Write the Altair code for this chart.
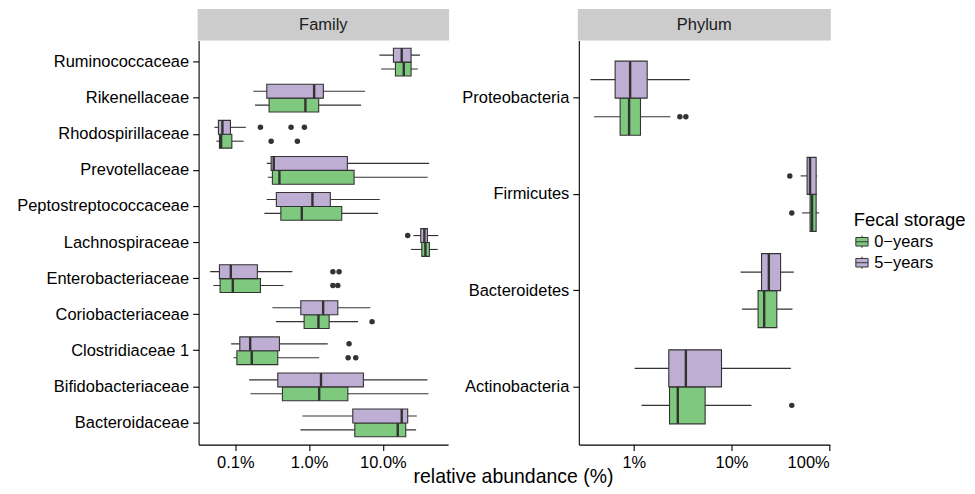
import altair as alt
import pandas as pd

FONT = "Liberation Sans"
GROUPS = ["0−years", "5−years"]
GROUP_COLORS = ["#7FC97F", "#BEAED4"]
STACK_ORDER = ["5−years", "0−years"]

# ---------------- Family panel ----------------
family_cats = ["Ruminococcaceae", "Rikenellaceae", "Rhodospirillaceae", "Prevotellaceae",
               "Peptostreptococcaceae", "Lachnospiraceae", "Enterobacteriaceae",
               "Coriobacteriaceae", "Clostridiaceae 1", "Bifidobacteriaceae", "Bacteroidaceae"]
# 0-years
fam0_lo  = [9.45, 0.185, 0.0555, 0.276, 0.248, 24.1, 0.0505, 0.357, 0.0942, 0.160, 0.762]
fam0_q1  = [14.8, 0.287, 0.0610, 0.318, 0.414, 33.7, 0.0622, 0.856, 0.105, 0.435, 4.16]
fam0_med = [19.2, 0.891, 0.0642, 0.396, 0.796, 37.7, 0.0925, 1.34, 0.167, 1.37, 15.9]
fam0_q3  = [24.1, 1.35, 0.0897, 4.07, 2.77, 42.7, 0.219, 1.87, 0.376, 3.35, 20.4]
fam0_hi  = [29.7, 5.07, 0.130, 40.6, 8.61, 55.4, 0.449, 4.61, 1.37, 41.4, 28.2]
# 5-years
fam5_lo  = [8.97, 0.176, 0.0521, 0.267, 0.267, 25.9, 0.0456, 0.318, 0.0877, 0.154, 0.811]
fam5_q1  = [13.9, 0.267, 0.0590, 0.306, 0.360, 32.6, 0.0609, 0.772, 0.115, 0.376, 3.91]
fam5_med = [18.0, 1.17, 0.0669, 0.332, 1.11, 36.5, 0.0869, 1.55, 0.159, 1.45, 18.0]
fam5_q3  = [24.1, 1.56, 0.0859, 3.30, 1.94, 40.1, 0.199, 2.45, 0.396, 5.44, 21.7]
fam5_hi  = [31.9, 5.74, 0.139, 42.3, 9.08, 56.5, 0.594, 6.77, 1.79, 40.1, 28.8]
# outliers
fam_out_cat = ["Rhodospirillaceae", "Rhodospirillaceae", "Enterobacteriaceae", "Enterobacteriaceae",
               "Coriobacteriaceae", "Clostridiaceae 1", "Clostridiaceae 1",
               "Rhodospirillaceae", "Rhodospirillaceae", "Rhodospirillaceae", "Lachnospiraceae",
               "Enterobacteriaceae", "Enterobacteriaceae", "Clostridiaceae 1"]
fam_out_grp = ["0−years"] * 7 + ["5−years"] * 7
fam_out_val = [0.306, 0.694, 2.10, 2.45, 7.14, 3.38, 4.29,
               0.219, 0.570, 0.864, 21.7, 2.10, 2.55, 3.48]
family_ticks = [0.1, 1, 10]
family_tick_labels = ["0.1%", "1.0%", "10.0%"]
family_domain = [0.0318, 76.5]

# ---------------- Phylum panel ----------------
phylum_cats = ["Proteobacteria", "Firmicutes", "Bacteroidetes", "Actinobacteria"]
phy0_lo  = [0.392, 52.8, 12.8, 1.20]
phy0_q1  = [0.724, 63.7, 18.7, 2.32]
phy0_med = [0.895, 66.8, 21.6, 2.82]
phy0_q3  = [1.17, 73.5, 29.1, 5.37]
phy0_hi  = [2.37, 78.8, 42.1, 16.0]
phy5_lo  = [0.360, 50.9, 12.4, 1.02]
phy5_q1  = [0.644, 59.4, 20.3, 2.28]
phy5_med = [0.917, 63.7, 24.1, 3.41]
phy5_q3  = [1.37, 73.5, 31.8, 7.90]
phy5_hi  = [3.74, 75.2, 43.4, 40.5]
phy_out_cat = ["Proteobacteria", "Proteobacteria", "Firmicutes", "Actinobacteria", "Firmicutes"]
phy_out_grp = ["0−years", "0−years", "0−years", "0−years", "5−years"]
phy_out_val = [2.96, 3.41, 41.4, 41.4, 39.5]
phylum_ticks = [1, 10, 100]
phylum_tick_labels = ["1%", "10%", "100%"]
phylum_domain = [0.2735, 101.4]

PLOT_H = 405
STRIP_H = 31.5


def box_table(cats, g0, g5):
    rows = []
    for grp, stats in ((GROUPS[0], g0), (GROUPS[1], g5)):
        lo, q1, med, q3, hi = stats
        for i, c in enumerate(cats):
            rows.append({"cat": c, "grp": grp, "lo": lo[i], "q1": q1[i],
                         "med": med[i], "q3": q3[i], "hi": hi[i]})
    return pd.DataFrame(rows)


def label_expr(ticks, labels):
    expr = "''"
    for t, l in zip(reversed(ticks), reversed(labels)):
        expr = f"abs(datum.value - {t}) < {t}*1e-6 ? '{l}' : ({expr})"
    return expr


def panel(df, out_df, cats, domain, ticks, tick_labels, width, strip_text):
    xscale = alt.Scale(type="log", domain=domain, nice=False, zero=False)
    xaxis = alt.Axis(title=None, values=ticks, labelExpr=label_expr(ticks, tick_labels),
                     grid=False)
    y = alt.Y("cat:N", sort=cats,
              scale=alt.Scale(domain=cats, paddingInner=0, paddingOuter=0.1),
              axis=alt.Axis(title=None, grid=False))
    yoff = alt.YOffset("grp:N", sort=STACK_ORDER,
                       scale=alt.Scale(domain=STACK_ORDER, paddingInner=0, paddingOuter=0.3))
    base = alt.Chart(df)
    whisk = base.mark_rule(color="#333333", strokeWidth=1.1).encode(
        x=alt.X("lo:Q", scale=xscale, axis=xaxis), x2="hi:Q", y=y, yOffset=yoff)
    box = base.mark_bar(stroke="#333333", strokeWidth=1.1, opacity=1).encode(
        x=alt.X("q1:Q", scale=xscale, axis=xaxis), x2="q3:Q", y=y, yOffset=yoff,
        color=alt.Color("grp:N", scale=alt.Scale(domain=GROUPS, range=GROUP_COLORS),
                        legend=alt.Legend(
                            title="Fecal storage", orient="none", legendX=656.5,
                            legendY=171,
                            titleFontSize=18.5, titleFont=FONT, titleFontWeight="normal",
                            titleColor="#000000", labelFontSize=16.5, labelFont=FONT,
                            labelColor="#000000", padding=0, rowPadding=4, titlePadding=4,
                            symbolType="M-1,-0.7H1V0.7H-1Z M-1,0H1 M0,-0.7V-1 M0,0.7V1",
                            symbolSize=150, symbolStrokeColor="#333333",
                            symbolStrokeWidth=1, labelOffset=4)))
    med = base.mark_bar(stroke="#333333", strokeWidth=2.4, fillOpacity=0).encode(
        x=alt.X("med:Q", scale=xscale, axis=xaxis), x2="med:Q", y=y, yOffset=yoff)
    pts = alt.Chart(out_df).mark_circle(color="#333333", opacity=1, size=30).encode(
        x=alt.X("val:Q", scale=xscale, axis=xaxis), y=y, yOffset=yoff)
    strip_data = alt.Data(values=[{"s": strip_text}])
    strip = alt.Chart(strip_data).mark_rect(color="#CCCCCC").encode(
        x=alt.value(-1), x2=alt.value(width + 1), y=alt.value(-STRIP_H), y2=alt.value(0))
    strip_lbl = alt.Chart(strip_data).mark_text(
        font=FONT, fontSize=16.5, color="#1A1A1A", baseline="middle", align="center").encode(
        x=alt.value(width / 2), y=alt.value(-STRIP_H / 2), text="s:N")
    return alt.layer(strip, strip_lbl, whisk, box, med, pts).properties(
        width=width, height=PLOT_H)


fam_df = box_table(family_cats, (fam0_lo, fam0_q1, fam0_med, fam0_q3, fam0_hi),
                   (fam5_lo, fam5_q1, fam5_med, fam5_q3, fam5_hi))
fam_out = pd.DataFrame({"cat": fam_out_cat, "grp": fam_out_grp, "val": fam_out_val})
phy_df = box_table(phylum_cats, (phy0_lo, phy0_q1, phy0_med, phy0_q3, phy0_hi),
                   (phy5_lo, phy5_q1, phy5_med, phy5_q3, phy5_hi))
phy_out = pd.DataFrame({"cat": phy_out_cat, "grp": phy_out_grp, "val": phy_out_val})

left = panel(fam_df, fam_out, family_cats, family_domain, family_ticks, family_tick_labels,
             250, "Family")
right = panel(phy_df, phy_out, phylum_cats, phylum_domain, phylum_ticks, phylum_tick_labels,
              251.5, "Phylum")

chart = alt.hconcat(left, right, spacing=12).resolve_scale(
    x="independent", y="independent", yOffset="independent"
).properties(
    title=alt.TitleParams("relative abundance (%)", orient="bottom", anchor="middle",
                          fontSize=19.5, font=FONT, fontWeight="normal", color="#000000",
                          offset=-3, dx=22),
    padding={"left": 8, "top": 0, "right": 0, "bottom": 5},
).configure_view(stroke=None).configure_axis(
    domainColor="#000000", domainWidth=1.1, tickColor="#000000", tickWidth=1.1,
    tickSize=6, labelPadding=4, labelColor="#000000", labelFontSize=16.5, labelFont=FONT,
    grid=False
)

chart.save("out.html", embed_options={"renderer": "svg", "actions": False})
